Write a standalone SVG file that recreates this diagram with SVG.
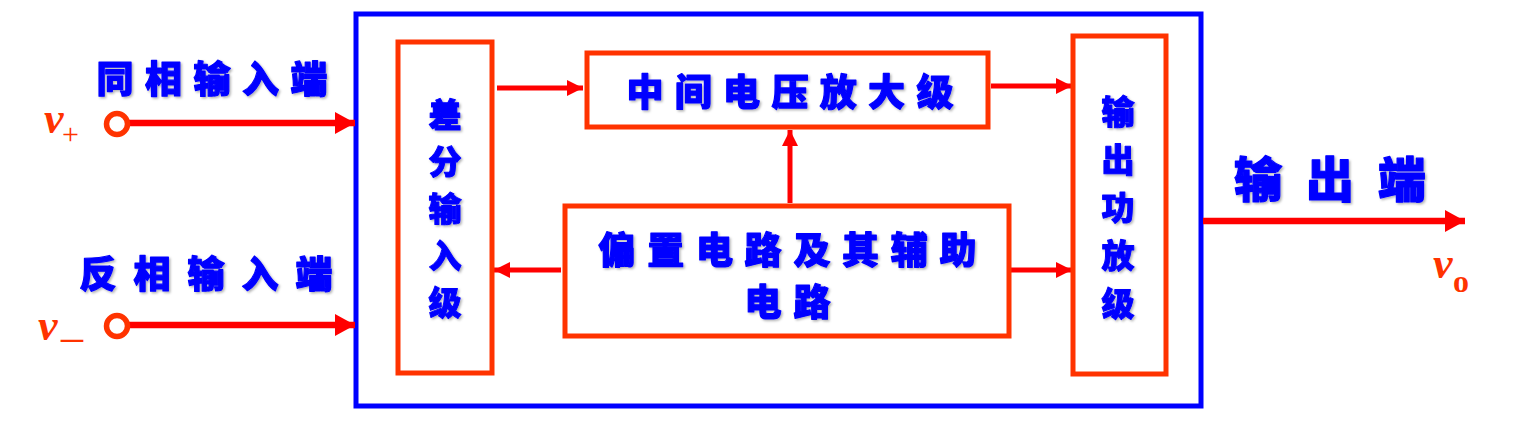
<svg xmlns="http://www.w3.org/2000/svg" width="1515" height="447" viewBox="0 0 1515 447">
<style>
.cn{font-family:"Noto Sans CJK SC","Noto Sans",sans-serif;font-weight:900;fill:#0000FF;stroke:#0000FF;stroke-width:1.2;stroke-linejoin:round;text-anchor:middle;filter:url(#sh)}
.cv{font-size:33px;stroke-width:1}
.box{fill:#FFFFFF;stroke:#FF3300;stroke-width:5}
.ar{stroke:#FF0000;stroke-width:5;fill:none}
.arb{stroke:#FF0000;stroke-width:6.5;fill:none}
.v{font-family:"Liberation Serif","Times New Roman",serif;font-style:italic;font-weight:bold;fill:#FF3300}
.s{font-family:"Liberation Serif","Times New Roman",serif;fill:#FF3300}
</style>
<defs>
<filter id="sh" x="-20%" y="-20%" width="140%" height="140%">
<feDropShadow dx="1.5" dy="1.5" stdDeviation="1" flood-color="#000" flood-opacity="0.3"/>
</filter>
<marker id="hb" viewBox="0 0 20 22" refX="20" refY="11" markerWidth="20" markerHeight="22" markerUnits="userSpaceOnUse" orient="auto">
<path d="M0,0 L20,11 L0,22 z" fill="#FF0000"/>
</marker>
<marker id="hs" viewBox="0 0 16 16" refX="16" refY="8" markerWidth="16" markerHeight="16" markerUnits="userSpaceOnUse" orient="auto">
<path d="M0,0 L16,8 L0,16 z" fill="#FF0000"/>
</marker>
</defs>
<rect width="1515" height="447" fill="#FFFFFF"/>

<g id="opamp-frame">
<rect x="356" y="14" width="845" height="392" fill="none" stroke="#0000FF" stroke-width="5"/>
</g>

<g id="connectors">
<line class="arb" x1="127" y1="123" x2="355" y2="123" marker-end="url(#hb)"/>
<line class="arb" x1="127" y1="325" x2="355" y2="325" marker-end="url(#hb)"/>
<line class="arb" x1="1203" y1="221" x2="1465" y2="221" marker-end="url(#hb)"/>
<line class="ar" x1="497" y1="88" x2="583" y2="88" marker-end="url(#hs)"/>
<line class="ar" x1="991" y1="86" x2="1072" y2="86" marker-end="url(#hs)"/>
<line class="ar" x1="790" y1="203" x2="790" y2="130" marker-end="url(#hs)"/>
<line class="ar" x1="561" y1="270" x2="494" y2="270" marker-end="url(#hs)"/>
<line class="ar" x1="1011" y1="270" x2="1072" y2="270" marker-end="url(#hs)"/>
</g>

<g id="input-plus">
<circle cx="117" cy="124" r="10.5" fill="#FFFFFF" stroke="#FF3300" stroke-width="5.5"/>
<text class="cn" font-size="37" x="115 163.5 212 260.5 309" y="93">同相输入端</text>
<text class="v" font-size="44" x="44" y="133">v</text>
<text class="s" font-size="30" x="62" y="144">+</text>
</g>

<g id="input-minus">
<circle cx="117" cy="326" r="10.5" fill="#FFFFFF" stroke="#FF3300" stroke-width="5.5"/>
<text class="cn" font-size="37" x="98 152 206 260 314" y="288">反相输入端</text>
<text class="v" font-size="44" x="38" y="340">v</text>
<text class="s" font-size="44" x="61" y="336">_</text>
</g>

<g id="diff-input">
<rect class="box" x="398" y="42" width="94" height="331"/>
<text class="cn cv" x="445" y="127">差</text>
<text class="cn cv" x="445" y="174">分</text>
<text class="cn cv" x="445" y="221">输</text>
<text class="cn cv" x="445" y="268">入</text>
<text class="cn cv" x="445" y="315">级</text>
</g>

<g id="middle-stage">
<rect class="box" x="587" y="53" width="401" height="74"/>
<text class="cn" font-size="37" x="645 693.3 741.6 790 838.3 886.6 935" y="106">中间电压放大级</text>
</g>

<g id="bias">
<rect class="box" x="565" y="206" width="444" height="130"/>
<text class="cn" font-size="37" x="617 665.7 714.4 763.1 811.9 860.6 909.3 958" y="264">偏置电路及其辅助</text>
<text class="cn" font-size="37" x="763 812" y="316">电路</text>
</g>

<g id="output-stage">
<rect class="box" x="1073" y="36" width="93" height="338"/>
<text class="cn cv" x="1118" y="124">输</text>
<text class="cn cv" x="1118" y="172">出</text>
<text class="cn cv" x="1118" y="220">功</text>
<text class="cn cv" x="1118" y="268">放</text>
<text class="cn cv" x="1118" y="316">级</text>
</g>

<g id="output">
<text class="cn" font-size="48" x="1258 1330 1402" y="197">输出端</text>
<text class="v" font-size="44" x="1433" y="278">v</text>
<text class="s" font-size="32" font-weight="bold" x="1453" y="292">o</text>
</g>
</svg>
